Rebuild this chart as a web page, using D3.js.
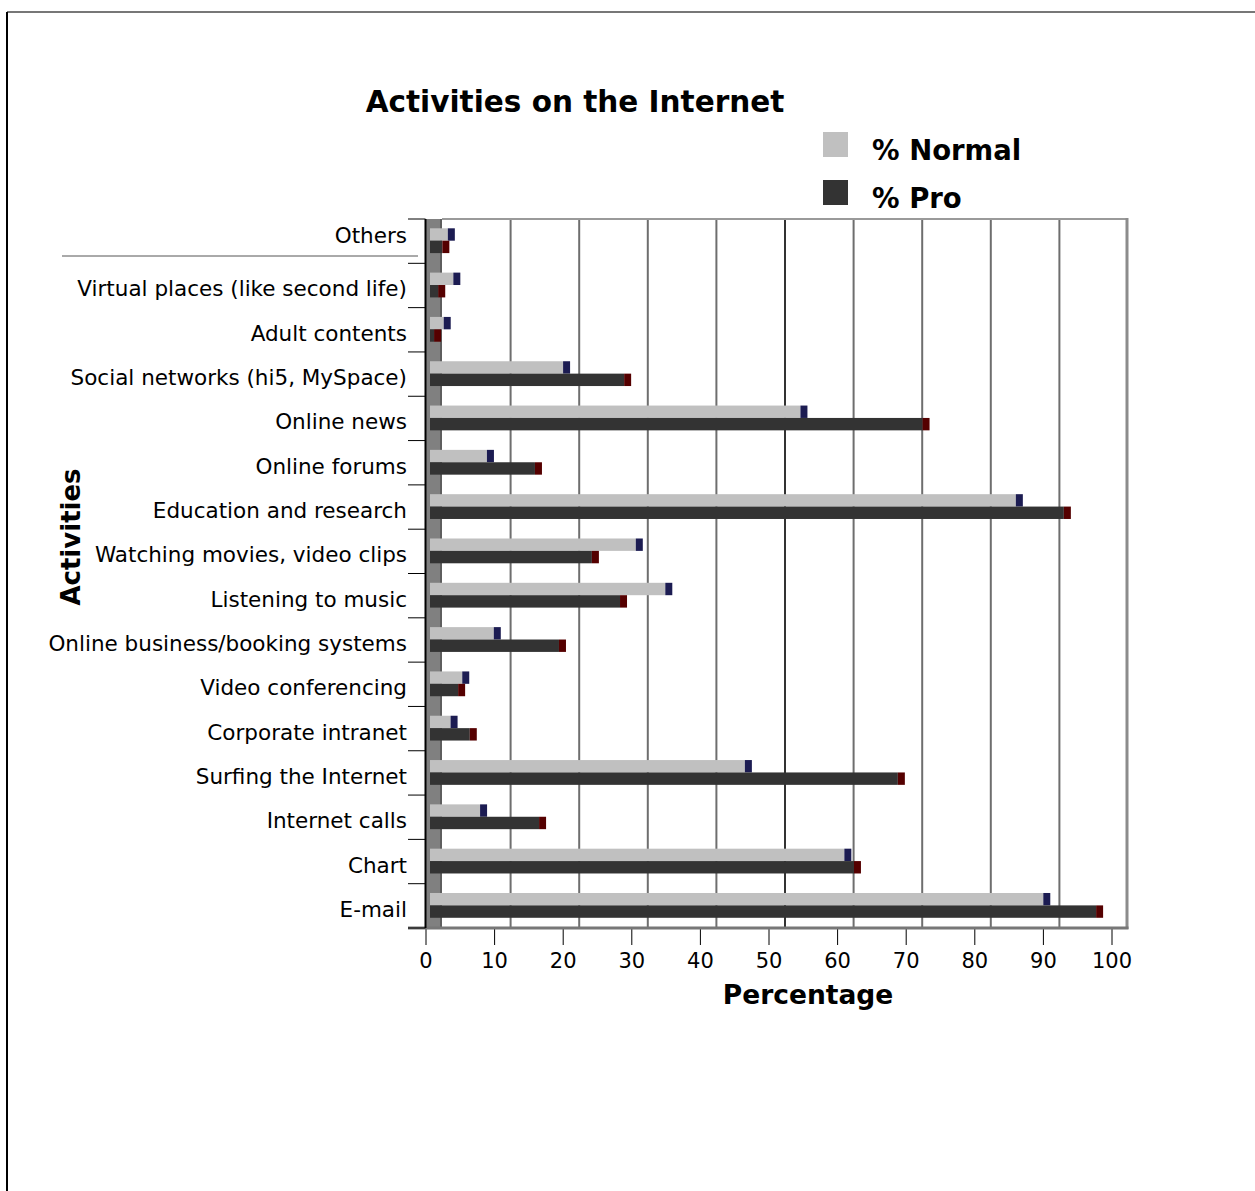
<!DOCTYPE html>
<html>
<head>
<meta charset="utf-8">
<script src="https://cdn.jsdelivr.net/npm/d3@7"></script>
<style>
  body { margin: 0; background: #fff; }
  text { font-family: "DejaVu Sans", Verdana, sans-serif; fill: #000; }
</style>
</head>
<body>
<div id="plot"></div>
<script>
// Categories from top to bottom
var activities = [
  "Others",
  "Virtual places (like second life)",
  "Adult contents",
  "Social networks (hi5, MySpace)",
  "Online news",
  "Online forums",
  "Education and research",
  "Watching movies, video clips",
  "Listening to music",
  "Online business/booking systems",
  "Video conferencing",
  "Corporate intranet",
  "Surfing the Internet",
  "Internet calls",
  "Chart",
  "E-mail"
];

// % values
var normalValues = [2.6, 3.4, 2.0, 19.4, 54.0, 8.3, 85.4, 30.0, 34.3, 9.3, 4.7, 3.0, 45.9, 7.3, 60.4, 89.4];
var proValues    = [1.8, 1.2, 0.6, 28.3, 71.8, 15.3, 92.4, 23.6, 27.7, 18.8, 4.1, 5.8, 68.2, 15.9, 61.8, 97.1];

var seriesNames = ["% Normal", "% Pro"];
var xTicks = [0, 10, 20, 30, 40, 50, 60, 70, 80, 90, 100];

// SVG area
var svgWidth = 1255;
var svgHeight = 1191;

var plot = { left: 425.5, right: 1111.5, top: 219, bottom: 928 };
var depth = 16.5;   // 3d back wall offset
var barShift = 4.5; // bars sit a bit in front of the wall
var capWidth = 7;

var svg = d3.select("#plot")
  .append("svg")
  .attr("width", svgWidth)
  .attr("height", svgHeight);

// outer frame
svg.append("line")
  .attr("x1", 7).attr("x2", svgWidth).attr("y1", 12).attr("y2", 12)
  .attr("stroke", "#777").attr("stroke-width", 2);
svg.append("line")
  .attr("x1", 7).attr("x2", 7).attr("y1", 12).attr("y2", svgHeight)
  .attr("stroke", "#000").attr("stroke-width", 2);

// scales
var xScale = d3.scaleLinear()
  .domain([0, 100])
  .range([plot.left, plot.right]);

var yScale = d3.scaleBand()
  .domain(activities)
  .range([plot.top, plot.bottom]);

var inner = d3.scaleBand()
  .domain(seriesNames)
  .range([9.3, 34.1]);

// gridlines on the back wall
svg.append("g")
  .selectAll("line")
  .data(xTicks.slice(1, -1))
  .enter()
  .append("line")
  .attr("x1", d => xScale(d) + depth)
  .attr("x2", d => xScale(d) + depth)
  .attr("y1", plot.top)
  .attr("y2", plot.bottom)
  .attr("stroke", d => d == 50 ? "#333" : "#6e6e6e")
  .attr("stroke-width", 2);

// back wall top edge and right edge
svg.append("line")
  .attr("x1", plot.left + depth).attr("x2", xScale(100) + depth)
  .attr("y1", plot.top).attr("y2", plot.top)
  .attr("stroke", "#9a9a9a").attr("stroke-width", 2);
svg.append("line")
  .attr("x1", xScale(100) + depth - 1).attr("x2", xScale(100) + depth - 1)
  .attr("y1", plot.top - 1).attr("y2", plot.bottom + 1)
  .attr("stroke", "#8c8c8c").attr("stroke-width", 3);

// side wall (3d left)
svg.append("rect")
  .attr("x", plot.left)
  .attr("y", plot.top)
  .attr("width", depth)
  .attr("height", plot.bottom - plot.top)
  .attr("fill", "#808080");
svg.append("line")
  .attr("x1", plot.left + depth - 1).attr("x2", plot.left + depth - 1)
  .attr("y1", plot.top).attr("y2", plot.bottom)
  .attr("stroke", "#5e5e5e").attr("stroke-width", 2);

// bottom axis
var bottomAxis = d3.axisBottom(xScale)
  .tickValues(xTicks)
  .tickSize(17)
  .tickPadding(8);

var xAxisG = svg.append("g")
  .attr("transform", "translate(0, " + plot.bottom + ")")
  .call(bottomAxis);
xAxisG.select(".domain").remove();
xAxisG.selectAll("line").attr("stroke", "#000");
xAxisG.selectAll("text")
  .style("font-size", "21px")
  .style("font-family", "DejaVu Sans, sans-serif");

svg.append("line")
  .attr("x1", 408).attr("x2", xScale(100) + depth + 0.5)
  .attr("y1", plot.bottom).attr("y2", plot.bottom)
  .attr("stroke", "#777").attr("stroke-width", 3);

// left axis
svg.append("line")
  .attr("x1", plot.left).attr("x2", plot.left)
  .attr("y1", plot.top).attr("y2", plot.bottom)
  .attr("stroke", "#000").attr("stroke-width", 2);

var bounds = activities.map(d => yScale(d)).concat([plot.bottom]);
svg.append("g")
  .selectAll("line")
  .data(bounds)
  .enter()
  .append("line")
  .attr("x1", 408)
  .attr("x2", plot.left)
  .attr("y1", d => d)
  .attr("y2", d => d)
  .attr("stroke", "#000")
  .attr("stroke-width", 1);

// stray rule under "Others"
svg.append("line")
  .attr("x1", 62).attr("x2", 418)
  .attr("y1", yScale("Others") + 37).attr("y2", yScale("Others") + 37)
  .attr("stroke", "#555").attr("stroke-width", 1);

// category labels
svg.append("g")
  .selectAll("text")
  .data(activities)
  .enter()
  .append("text")
  .attr("x", 407)
  .attr("y", d => yScale(d) + yScale.bandwidth() / 2 + (d == "Others" ? -4 : 5))
  .attr("text-anchor", "end")
  .attr("dominant-baseline", "middle")
  .style("font-size", "21.5px")
  .text(d => d);

// bars
var rows = activities.map(function(d, i) {
  return { name: d, values: [normalValues[i], proValues[i]] };
});

var barColors = ["#c0c0c0", "#333333"];
var capColors = ["#1c1c52", "#550000"];

var rowGroups = svg.append("g")
  .selectAll("g")
  .data(rows)
  .enter()
  .append("g")
  .attr("transform", d => "translate(0," + yScale(d.name) + ")");

seriesNames.forEach(function(s, k) {
  rowGroups.append("rect")
    .attr("x", xScale(0) + barShift)
    .attr("y", inner(s))
    .attr("width", d => xScale(d.values[k]) - xScale(0))
    .attr("height", inner.bandwidth())
    .attr("fill", barColors[k]);

  rowGroups.append("rect")
    .attr("x", d => xScale(d.values[k]) + barShift)
    .attr("y", inner(s))
    .attr("width", capWidth)
    .attr("height", inner.bandwidth())
    .attr("fill", capColors[k]);
});

// title
svg.append("text")
  .attr("x", 575)
  .attr("y", 103)
  .attr("text-anchor", "middle")
  .attr("dominant-baseline", "middle")
  .style("font-size", "29.5px")
  .style("font-weight", "bold")
  .text("Activities on the Internet");

// axis titles
svg.append("text")
  .attr("x", 808)
  .attr("y", 996)
  .attr("text-anchor", "middle")
  .attr("dominant-baseline", "middle")
  .style("font-size", "26.5px")
  .style("font-weight", "bold")
  .text("Percentage");

svg.append("text")
  .attr("transform", "translate(72, 537) rotate(-90)")
  .attr("text-anchor", "middle")
  .attr("dominant-baseline", "middle")
  .style("font-size", "26px")
  .style("font-weight", "bold")
  .text("Activities");

// legend
var legend = svg.append("g")
  .selectAll("g")
  .data(seriesNames)
  .enter()
  .append("g")
  .attr("transform", (d, i) => "translate(823," + (132 + i * 48) + ")");

legend.append("rect")
  .attr("width", 25)
  .attr("height", 25)
  .attr("fill", (d, i) => barColors[i]);

legend.append("text")
  .attr("x", 49)
  .attr("y", 20)
  .attr("dominant-baseline", "middle")
  .style("font-size", "27.5px")
  .style("font-weight", "bold")
  .text(d => d);
</script>
</body>
</html>
